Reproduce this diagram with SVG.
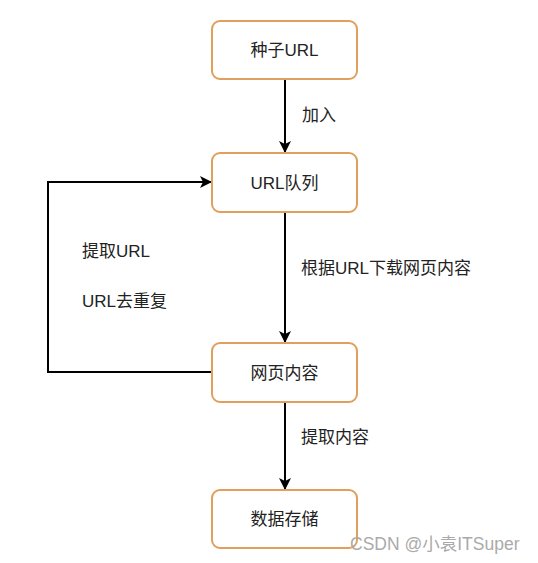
<svg xmlns="http://www.w3.org/2000/svg" width="538" height="563" viewBox="0 0 538 563">
<style>
.box{fill:#fff;stroke:#E09F5C;stroke-width:2}
.t{font-family:"Liberation Sans","Noto Sans CJK SC",sans-serif;font-size:17px;fill:#222}
.c{text-anchor:middle}
.line{fill:none;stroke:#000;stroke-width:2}
.wm{font-family:"Liberation Sans","Noto Sans CJK SC",sans-serif;font-size:17.5px;fill:#aaa}
</style>
<defs>
<marker id="ah" markerWidth="12" markerHeight="12" refX="11" refY="6" orient="auto" markerUnits="userSpaceOnUse">
<path d="M0,0 L12,6 L0,12 L3,6 Z" fill="#000"/>
</marker>
</defs>
<rect width="538" height="563" fill="#fff"/>
<g id="connectors">
<line class="line" x1="285" y1="79" x2="285" y2="152" marker-end="url(#ah)"/>
<line class="line" x1="285" y1="212" x2="285" y2="342" marker-end="url(#ah)"/>
<line class="line" x1="285" y1="402" x2="285" y2="489" marker-end="url(#ah)"/>
<polyline class="line" points="212,372 48,372 48,182 211,182" marker-end="url(#ah)"/>
<text class="t" x="302" y="121">加入</text>
<text class="t" x="301" y="274">根据URL下载网页内容</text>
<text class="t" x="301" y="443">提取内容</text>
<text class="t" x="82" y="257">提取URL</text>
<text class="t" x="82" y="307">URL去重复</text>
</g>
<g id="n1"><rect class="box" x="212" y="21" width="145" height="58" rx="8"/><text class="t c" x="284.5" y="56">种子URL</text></g>
<g id="n2"><rect class="box" x="212" y="153" width="145" height="59" rx="8"/><text class="t c" x="284.5" y="189">URL队列</text></g>
<g id="n3"><rect class="box" x="212" y="343" width="145" height="59" rx="8"/><text class="t c" x="284.5" y="379">网页内容</text></g>
<g id="n4"><rect class="box" x="212" y="490" width="145" height="58" rx="8"/><text class="t c" x="284.5" y="525">数据存储</text></g>
<text class="wm" x="350" y="550">CSDN @小袁ITSuper</text>
</svg>
